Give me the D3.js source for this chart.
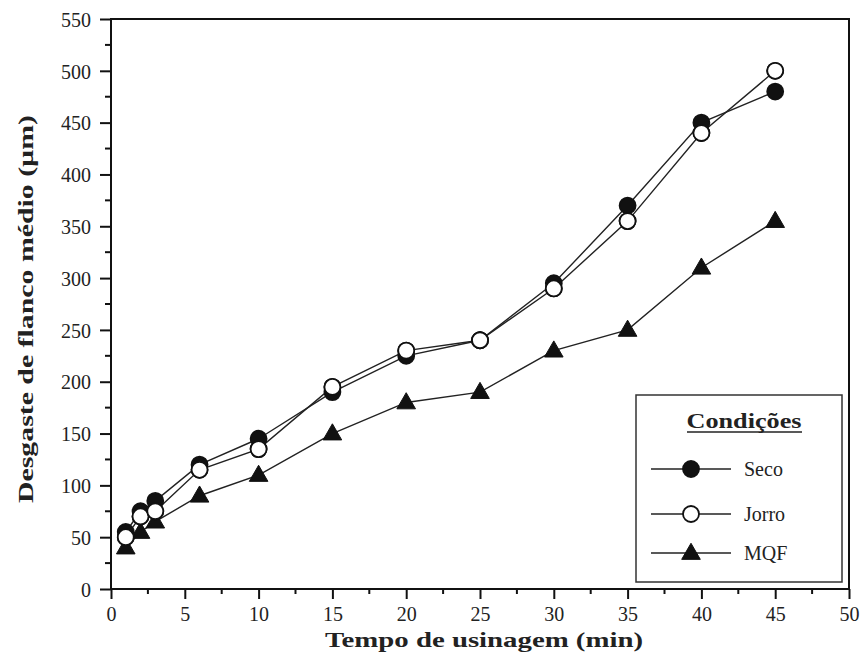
<!DOCTYPE html>
<html>
<head>
<meta charset="utf-8">
<script src="https://cdn.jsdelivr.net/npm/d3@7"></script>
<style>
  html, body { margin: 0; padding: 0; background: #fff; }
  svg { display: block; }
  svg text {
    font-family: "Liberation Serif", "DejaVu Serif Condensed", "DejaVu Serif", serif;
    font-stretch: condensed;
  }
</style>
</head>
<body>
<div id="chart"></div>
<script>
// data
const tempos = [1, 2, 3, 6, 10, 15, 20, 25, 30, 35, 40, 45];
const seco = [55, 75, 85, 120, 145, 190, 225, 240, 295, 370, 450, 480];
const jorro = [50, 70, 75, 115, 135, 195, 230, 240, 290, 355, 440, 500];
const mqf = [40, 55, 65, 90, 110, 150, 180, 190, 230, 250, 310, 355];
const seriesNames = ["Seco", "Jorro", "MQF"];
const xTicks = [0, 5, 10, 15, 20, 25, 30, 35, 40, 45, 50];
const yTicks = [0, 50, 100, 150, 200, 250, 300, 350, 400, 450, 500, 550];

const width = 865, height = 666;

const svg = d3.select("#chart").append("svg")
    .attr("width", width)
    .attr("height", height);

const x = d3.scaleLinear().domain([0, 50]).range([111, 849]);
const y = d3.scaleLinear().domain([0, 550]).range([589, 19]);

// frame
svg.append("rect")
    .attr("x", x(0)).attr("y", y(550))
    .attr("width", x(50) - x(0)).attr("height", y(0) - y(550))
    .attr("fill", "none").attr("stroke", "#111").attr("stroke-width", 2);

// minor ticks
svg.append("g").selectAll("line.xminor")
    .data(d3.range(2.5, 50, 5)).join("line")
    .attr("x1", d => x(d)).attr("x2", d => x(d))
    .attr("y1", y(0)).attr("y2", y(0) + 5)
    .attr("stroke", "#111").attr("stroke-width", 2);
svg.append("g").selectAll("line.yminor")
    .data(d3.range(25, 550, 50)).join("line")
    .attr("x1", x(0) - 6).attr("x2", x(0))
    .attr("y1", d => y(d)).attr("y2", d => y(d))
    .attr("stroke", "#111").attr("stroke-width", 2);

// axes
const xAxis = svg.append("g")
    .attr("transform", `translate(0,${y(0)})`)
    .call(d3.axisBottom(x).tickValues(xTicks).tickSize(10).tickPadding(8).tickFormat(d3.format("d")));
const yAxis = svg.append("g")
    .attr("transform", `translate(${x(0)},0)`)
    .call(d3.axisLeft(y).tickValues(yTicks).tickSize(11).tickPadding(9).tickFormat(d3.format("d")));

[xAxis, yAxis].forEach(g => {
    g.attr("font-family", null);
    g.select(".domain").remove();
    g.selectAll(".tick line").attr("stroke", "#111").attr("stroke-width", 2);
    g.selectAll(".tick text")
        .attr("fill", "#222")
        .attr("font-size", 20);
});
yAxis.selectAll(".tick text").attr("dy", "0.36em");

// axis titles
svg.append("text")
    .attr("x", 484).attr("y", 647)
    .attr("text-anchor", "middle")
    .attr("font-size", 21).attr("font-weight", "bold").attr("fill", "#222")
    .attr("textLength", 318).attr("lengthAdjust", "spacingAndGlyphs")
    .text("Tempo de usinagem (min)");

svg.append("text")
    .attr("transform", "translate(33,309) rotate(-90)")
    .attr("text-anchor", "middle")
    .attr("font-size", 22).attr("font-weight", "bold").attr("fill", "#222")
    .attr("textLength", 388).attr("lengthAdjust", "spacingAndGlyphs")
    .text("Desgaste de flanco médio (µm)");

// series
const series = [
    { name: seriesNames[0], values: seco, shape: "circle", fill: "#111" },
    { name: seriesNames[1], values: jorro, shape: "circle", fill: "#fff" },
    { name: seriesNames[2], values: mqf, shape: "triangle", fill: "#111" }
];

const line = d3.line().x(d => x(d[0])).y(d => y(d[1]));
const triangle = d3.symbol().type(d3.symbolTriangle).size(150);

function drawMarker(g, s, cx, cy) {
    if (s.shape === "circle") {
        g.append("circle")
            .attr("cx", cx).attr("cy", cy).attr("r", 8)
            .attr("fill", s.fill).attr("stroke", "#111").attr("stroke-width", 1.8);
    } else {
        g.append("path")
            .attr("d", triangle())
            .attr("transform", `translate(${cx},${cy + 1})`)
            .attr("fill", s.fill).attr("stroke", "#111").attr("stroke-width", 1);
    }
}

// draw MQF first, then Jorro, then Seco to mimic overlaps
[series[2], series[1], series[0]].forEach(s => {
    const pts = tempos.map((t, i) => [t, s.values[i]]);
    const g = svg.append("g").attr("class", "series");
    g.append("path")
        .datum(pts)
        .attr("d", line)
        .attr("fill", "none").attr("stroke", "#222").attr("stroke-width", 1.4);
    pts.forEach(p => drawMarker(g, s, x(p[0]), y(p[1])));
});
// open circles that sit on top of the filled ones in the picture
const gTop = svg.append("g");
tempos.forEach((t, i) => {
    if (jorro[i] <= seco[i] || i === tempos.length - 1 || i === 5 || i === 6) drawMarker(gTop, series[1], x(t), y(jorro[i]));
});

// legend
const legend = svg.append("g").attr("class", "legend");
legend.append("rect")
    .attr("x", 636).attr("y", 395).attr("width", 206).attr("height", 187)
    .attr("fill", "#fff").attr("stroke", "#333").attr("stroke-width", 1.5);
legend.append("text")
    .attr("x", 744).attr("y", 428)
    .attr("text-anchor", "middle")
    .attr("font-size", 21).attr("font-weight", "bold").attr("fill", "#222")
    .attr("textLength", 115).attr("lengthAdjust", "spacingAndGlyphs")
    .text("Condições");
legend.append("line")
    .attr("x1", 687).attr("x2", 802).attr("y1", 432).attr("y2", 432)
    .attr("stroke", "#222").attr("stroke-width", 1.5);

const rowY = [469, 514, 553];
series.forEach((s, i) => {
    const g = legend.append("g");
    g.append("line")
        .attr("x1", 651).attr("x2", 731).attr("y1", rowY[i]).attr("y2", rowY[i])
        .attr("stroke", "#222").attr("stroke-width", 1.4);
    drawMarker(g, s, 691, rowY[i]);
    g.append("text")
        .attr("x", 744).attr("y", rowY[i] + 7)
        .attr("font-size", 20).attr("fill", "#222")
        .text(s.name);
});
</script>
</body>
</html>
